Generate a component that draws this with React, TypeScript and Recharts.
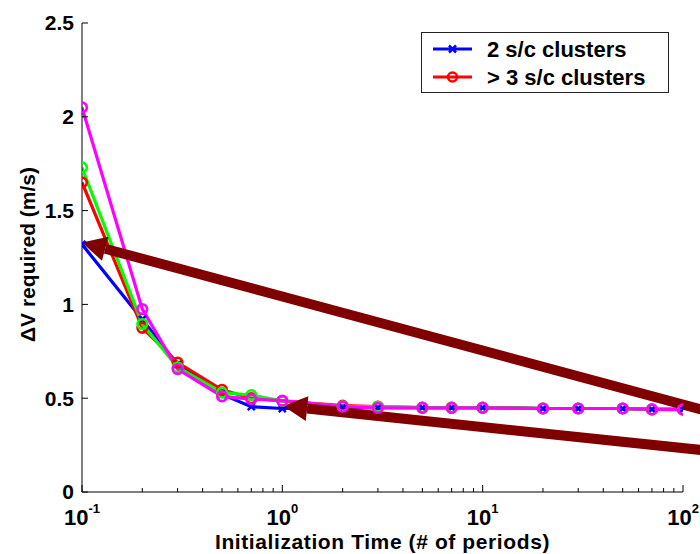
import React from 'react'
import { Legend, Line, LineChart, ReferenceLine, XAxis, YAxis } from 'recharts'

// initialization time, in orbital periods
const periods = [0.1, 0.2, 0.3, 0.5, 0.7, 1, 2, 3, 5, 7, 10, 20, 30, 50, 70, 100]

// delta-V required (m/s)
const twoClusters = [1.32, 0.92, 0.68, 0.52, 0.455, 0.445, 0.45, 0.45, 0.45, 0.45, 0.45, 0.445, 0.445, 0.445, 0.44, 0.44]
const threeClusters = [1.65, 0.875, 0.69, 0.545, 0.5, 0.485, 0.46, 0.455, 0.45, 0.45, 0.45, 0.445, 0.445, 0.445, 0.44, 0.44]
const runC = [1.73, 0.895, 0.665, 0.53, 0.517, 0.485, 0.457, 0.455, 0.45, 0.45, 0.45, 0.445, 0.445, 0.445, 0.44, 0.438]
const runD = [2.05, 0.975, 0.655, 0.51, 0.495, 0.487, 0.455, 0.448, 0.448, 0.448, 0.448, 0.445, 0.445, 0.445, 0.44, 0.44]

const decades = [0.1, 1, 10, 100]
const minorSteps = [2, 3, 4, 5, 6, 7, 8, 9]
const yTicks = [0, 0.5, 1, 1.5, 2, 2.5]

// annotation arrows: tail -> head, in data units
const arrowTails = [
  { x: 123, y: 0.44 },
  { x: 123, y: 0.224 },
]
const arrowHeads = [
  { x: 0.1, y: 1.33 },
  { x: 1.01, y: 0.458 },
]

const legendItems = [
  { label: '2 s/c clusters', color: '#0000ff', marker: 'x' },
  { label: '> 3 s/c clusters', color: '#ff0000', marker: 'o' },
]

const rows = periods.map((t, i) => ({
  t,
  two: twoClusters[i],
  three: threeClusters[i],
  c: runC[i],
  d: runD[i],
}))

const xTicks = [
  ...decades,
  ...decades.slice(0, -1).flatMap((d) => minorSteps.map((m) => +(d * m).toPrecision(3))),
].sort((a, b) => a - b)

const FONT = '"Liberation Sans", Arial, Helvetica, sans-serif'
const ARROW = '#800000'
const LINE_W = 3.2

const XTick = ({ x, y, payload, side }: any) => {
  const v = payload.value
  const exp = Math.round(Math.log10(v))
  const major = Math.abs(Math.log10(v) - exp) < 1e-6
  const len = major ? 7 : 4
  const dir = side === 'top' ? 1 : -1
  return (
    <g>
      <line x1={x} y1={y} x2={x} y2={y + dir * len} stroke="#000" strokeWidth={1} />
      {side === 'bottom' && major && (
        <text x={x} y={y + 33} textAnchor="middle" fontFamily={FONT} fontWeight="bold" fontSize={22} fill="#000">
          10
          <tspan dy={-12} fontSize={13}>
            {String(exp)}
          </tspan>
        </text>
      )}
    </g>
  )
}

const YTick = ({ x, y, payload, side }: any) => {
  const dir = side === 'right' ? -1 : 1
  return (
    <g>
      <line x1={x} y1={y} x2={x + dir * 6} y2={y} stroke="#000" strokeWidth={1} />
      {side === 'left' && (
        <text x={x - 8} y={y} dy="0.35em" textAnchor="end" fontFamily={FONT} fontWeight="bold" fontSize={21} fill="#000">
          {payload.value}
        </text>
      )}
    </g>
  )
}

const YTitle = ({ viewBox }: any) => {
  const cx = viewBox.x + 28
  const cy = viewBox.y + viewBox.height / 2 - 3
  return (
    <text
      x={cx}
      y={cy}
      dy="0.35em"
      transform={`rotate(-90 ${cx} ${cy})`}
      textAnchor="middle"
      fontFamily={FONT}
      fontWeight="bold"
      fontSize={21}
      fill="#000"
    >
      ΔV required (m/s)
    </text>
  )
}

const XTitle = ({ viewBox }: any) => (
  <text
    x={viewBox.x + viewBox.width / 2}
    y={viewBox.y + 57}
    textAnchor="middle"
    fontFamily={FONT}
    fontWeight="bold"
    fontSize={21}
    letterSpacing={0.6}
    fill="#000"
  >
    Initialization Time (# of periods)
  </text>
)

const XMark = ({ cx, cy, color }: any) => (
  <path
    d={`M${cx - 3.5},${cy - 3.5}L${cx + 3.5},${cy + 3.5}M${cx - 3.5},${cy + 3.5}L${cx + 3.5},${cy - 3.5}`}
    stroke={color}
    strokeWidth={2.5}
  />
)

// thick arrow drawn from (x1,y1) to the head at (x2,y2)
const Arrow = ({ x1, y1, x2, y2 }: any) => {
  const dx = x2 - x1
  const dy = y2 - y1
  const len = Math.hypot(dx, dy)
  const ux = dx / len
  const uy = dy / len
  const px = -uy
  const py = ux
  const head = 24
  const half = 12.5
  const shaft = 5
  const bx = x2 - ux * head
  const by = y2 - uy * head
  const shaftPts = [
    [x1 + px * shaft, y1 + py * shaft],
    [bx + px * shaft, by + py * shaft],
    [bx - px * shaft, by - py * shaft],
    [x1 - px * shaft, y1 - py * shaft],
  ]
  const headPts = [
    [x2, y2],
    [bx + px * half, by + py * half],
    [bx - px * half, by - py * half],
  ]
  return (
    <g>
      <polygon points={shaftPts.map((p) => p.join(',')).join(' ')} fill={ARROW} />
      <polygon points={headPts.map((p) => p.join(',')).join(' ')} fill={ARROW} />
    </g>
  )
}

const LegendBox = () => (
  <svg width={248} height={61} style={{ display: 'block' }}>
    <rect x={0.5} y={0.5} width={247} height={60} fill="#fff" stroke="#222" />
    {legendItems.map((item, i) => {
      const cy = 17 + i * 28
      return (
        <g key={item.label}>
          <line x1={12} y1={cy} x2={51} y2={cy} stroke={item.color} strokeWidth={LINE_W} />
          {item.marker === 'x' ? (
            <XMark cx={31.5} cy={cy} color={item.color} />
          ) : (
            <circle cx={31.5} cy={cy} r={4.5} fill="none" stroke={item.color} strokeWidth={2.5} />
          )}
          <text x={66} y={cy + 8} fontFamily={FONT} fontWeight="bold" fontSize={22} fill="#000">
            {item.label}
          </text>
        </g>
      )
    })}
  </svg>
)

const circleDot = (color: string) => ({ r: 4.8, strokeWidth: 2.6, fill: 'none', stroke: color })

export default function App() {
  return (
    <div style={{ position: 'absolute', left: 0, top: 0, width: 700, height: 554, background: '#fff' }}>
      <LineChart width={700} height={554} data={rows} margin={{ top: 23, right: 17, bottom: 0, left: 0 }}>
        <XAxis
          dataKey="t"
          type="number"
          scale="log"
          domain={[0.1, 100]}
          allowDataOverflow
          ticks={xTicks}
          interval={0}
          height={62}
          tickSize={0}
          tickMargin={0}
          tickLine={false}
          axisLine={{ stroke: '#000' }}
          tick={(p: any) => <XTick {...p} side="bottom" />}
          label={<XTitle />}
        />
        <XAxis
          xAxisId="top"
          orientation="top"
          dataKey="t"
          type="number"
          scale="log"
          domain={[0.1, 100]}
          allowDataOverflow
          ticks={xTicks}
          interval={0}
          height={0}
          tickSize={0}
          tickMargin={0}
          tickLine={false}
          axisLine={{ stroke: '#000' }}
          tick={(p: any) => <XTick {...p} side="top" />}
        />
        <YAxis
          type="number"
          domain={[0, 2.5]}
          allowDataOverflow
          ticks={yTicks}
          interval={0}
          width={82}
          tickSize={0}
          tickMargin={0}
          tickLine={false}
          axisLine={{ stroke: '#000' }}
          tick={(p: any) => <YTick {...p} side="left" />}
          label={<YTitle />}
        />
        <YAxis
          yAxisId="right"
          orientation="right"
          type="number"
          domain={[0, 2.5]}
          allowDataOverflow
          ticks={yTicks}
          interval={0}
          width={0}
          tickSize={0}
          tickMargin={0}
          tickLine={false}
          axisLine={{ stroke: '#000' }}
          tick={(p: any) => <YTick {...p} side="right" />}
        />
        <Legend
          layout="vertical"
          align="center"
          verticalAlign="middle"
          content={() => <LegendBox />}
          wrapperStyle={{ left: 421, top: 32, width: 248, height: 61 }}
        />
        <Line
          dataKey="two"
          stroke="#0000ff"
          strokeWidth={LINE_W}
          isAnimationActive={false}
          dot={(p: any) => <XMark key={`two-${p.index}`} cx={p.cx} cy={p.cy} color="#0000ff" />}
        />
        <Line dataKey="three" stroke="#ff0000" strokeWidth={LINE_W} isAnimationActive={false} dot={circleDot('#ff0000')} />
        <Line dataKey="c" stroke="#00ff00" strokeWidth={LINE_W} isAnimationActive={false} dot={circleDot('#00ff00')} />
        <Line dataKey="d" stroke="#ff00ff" strokeWidth={LINE_W} isAnimationActive={false} dot={circleDot('#ff00ff')} />
        {arrowTails.map((tail, i) => (
          <ReferenceLine
            key={`arrow-${i}`}
            segment={[tail, arrowHeads[i]]}
            ifOverflow="visible"
            shape={(p: any) => <Arrow {...p} />}
          />
        ))}
      </LineChart>
    </div>
  )
}
